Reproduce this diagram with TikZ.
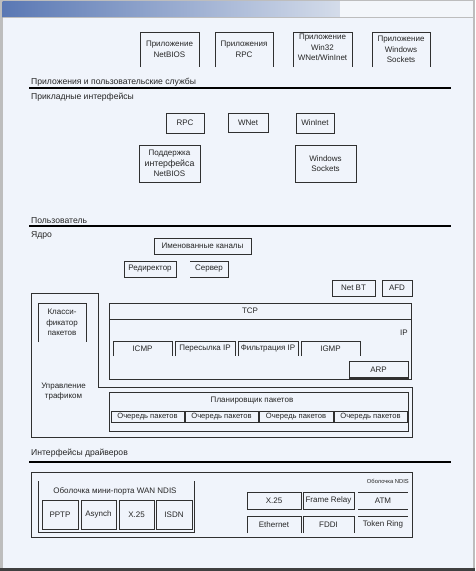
\documentclass[tikz,border=0pt]{standalone}
\usepackage{fontspec}
\setmainfont{Liberation Sans}
\definecolor{bgc}{HTML}{F0F4FB}
\definecolor{boxc}{HTML}{303030}
\definecolor{txt}{HTML}{262626}
\definecolor{barA}{HTML}{5A78B4}
\definecolor{barB}{HTML}{D4DCEA}
\definecolor{barC}{HTML}{F3F6FA}
\definecolor{edgec}{HTML}{BDBDBD}
\tikzset{
  bx/.style={draw=boxc, line width=0.6pt, inner sep=0pt, outer sep=0pt, align=center,
    font=\fontsize{8}{10.5}\selectfont, text=txt},
  ob/.style={draw=none},
  lbl/.style={anchor=west, inner sep=0pt, font=\fontsize{8.6}{10}\selectfont, text=txt},
  tx/.style={inner sep=0pt, align=center, font=\fontsize{8}{10}\selectfont, text=txt},
  sepline/.style={line width=1.3pt, draw=black},
  ln/.style={draw=boxc, line width=0.6pt},
}
% #1 options, #2 name, #3 x1, #4 y1, #5 x2, #6 y2, #7 text
\newcommand\rbox[7][]{%
  \node[bx,#1,minimum width={(#5-#3)*1pt},minimum height={(#6-#4)*1pt}] (#2)
    at ({(#3+#5)/2},{(#4+#6)/2}) {#7};}
\newcommand\openb[1]{\draw[ln] (#1.south west) -- (#1.north west) -- (#1.north east) -- (#1.south east);}
\begin{document}
\begin{tikzpicture}[x=1pt,y=-1pt]
\useasboundingbox (0,0) rectangle (475,571);
% frame
\fill[bgc] (0,0) rectangle (475,571);
\fill[edgec] (0,0) rectangle (2.5,571);
\fill[edgec] (472.5,0) rectangle (475,571);
\fill[edgec] (0,0) rectangle (475,1);
\shade[left color=barA, right color=barB] (2.5,1) rectangle (340,17);
\fill[barC] (340,1) rectangle (472.5,17);
\draw[edgec, line width=1pt] (2.5,17.5) -- (472.5,17.5);
\fill[black!75] (0,568) rectangle (475,571);

% applications
\rbox[ob]{a1}{140}{32}{199}{67}{Приложение\\NetBIOS}\openb{a1}
\rbox[ob]{a2}{215}{32}{273}{67}{Приложения\\RPC}\openb{a2}
\rbox[ob,yshift=2pt]{a3}{293}{32}{352}{67}{Приложение\\Win32\\WNet/WinInet}
\draw[ln] (293,67) -- (293,32) -- (352,32) -- (352,67);
\rbox[ob]{a4}{372}{32}{430}{67}{Приложение\\Windows\\Sockets}\openb{a4}

\node[lbl] (l1) at (31,82) {Приложения и пользовательские службы};
\coordinate (s1a) at (29,88); \coordinate (s1b) at (451,88);
\draw[sepline] (s1a) -- (s1b);
\node[lbl] (l2) at (31,97) {Прикладные интерфейсы};

\rbox{b1}{166}{113}{204}{133}{RPC}
\rbox{b2}{228}{113}{268}{132}{WNet}
\rbox{b3}{296}{113}{334}{133}{WinInet}
\rbox{b4}{139}{145}{200}{182}{Поддержка\\{\fontsize{8.8}{10.5}\selectfont интерфейса}\\NetBIOS}
\rbox{b5}{295}{145}{356}{182}{Windows\\Sockets}

\node[lbl] (l3) at (31,221) {Пользователь};
\coordinate (s2a) at (29,226); \coordinate (s2b) at (451,226);
\draw[sepline] (s2a) -- (s2b);
\node[lbl] (l4) at (31,235) {Ядро};

\rbox{c1}{154}{238}{251}{254}{Именованные каналы}
\rbox{c2}{124}{261}{176}{277}{Редиректор}
\rbox[ob]{c3}{190}{261}{228}{277}{Сервер}
\draw[ln] (c3.north west) -- (c3.north east) -- (c3.south east) -- (c3.south west);
\rbox{c4}{332}{280}{375}{296}{Net BT}
\rbox{c5}{382}{280}{412}{296}{AFD}

% traffic control
\draw[ln] (31,293) -- (98,293) -- (98,387) -- (412,387) -- (412,437) -- (31,437) -- cycle;
\rbox[ob]{d1}{38}{303}{86}{342}{Класси-\\фикатор\\пакетов}\openb{d1}
\node[tx,anchor=center] (tc) at (63.5,391.5) {Управление\\трафиком};

% TCP/IP
\rbox{tcpip}{109}{303}{411}{379}{}
\node[tx] (tcp) at (250,311) {TCP};
\draw[ln] (tcpip.west |- 0,319) -- (tcpip.east |- 0,319);
\node[tx] (ip) at (404,333) {IP};
\rbox[ob]{e1}{113}{341}{172}{356}{ICMP}\openb{e1}
\rbox[ob]{e2}{175}{341}{235}{356}{Пересылка IP}\openb{e2}
\rbox[ob]{e3}{238}{341}{298}{356}{Фильтрация IP}\openb{e3}
\rbox[ob]{e4}{301}{341}{360}{356}{IGMP}\openb{e4}
\rbox{arp}{349}{361}{408}{378}{ARP}
\draw[boxc, line width=1.2pt] (arp.south west) -- (arp.south east);

% scheduler
\rbox{sch}{109}{392}{408}{431}{}
\node[tx] (schl) at (252,401) {Планировщик пакетов};
\rbox[font=\fontsize{7.6}{9}\selectfont]{q1}{111}{411}{184}{422}{Очередь пакетов}
\rbox[font=\fontsize{7.6}{9}\selectfont]{q2}{185}{411}{258}{422}{Очередь пакетов}
\rbox[font=\fontsize{7.6}{9}\selectfont]{q3}{259}{411}{333}{422}{Очередь пакетов}
\rbox[font=\fontsize{7.6}{9}\selectfont]{q4}{334}{411}{407}{422}{Очередь пакетов}

\node[lbl] (l5) at (31,453) {Интерфейсы драйверов};
\coordinate (s3a) at (29,462); \coordinate (s3b) at (451,462);
\draw[sepline] (s3a) -- (s3b);

% drivers
\rbox{drv}{31}{472}{412}{537}{}
\draw[ln] (38,481) -- (38,532) -- (194,532) -- (194,481);
\node[tx] (wanl) at (115,491) {Оболочка мини-порта WAN NDIS};
\rbox{w1}{42}{500}{78}{529}{PPTP}
\rbox{w2}{81}{500}{116}{529}{Asynch}
\rbox{w3}{119}{500}{154}{529}{X.25}
\rbox{w4}{156}{500}{192}{529}{ISDN}
\node[tx,anchor=east,font=\fontsize{5.8}{7}\selectfont] (ndisl) at (409,481) {Оболочка NDIS};
\rbox{n1}{247}{492}{301}{509}{X.25}
\rbox{n2}{303}{492}{354}{509}{Frame Relay}
\rbox[ob]{n3}{358}{492}{408}{509}{ATM}
\draw[ln] (n3.north west) -- (n3.north east);
\draw[ln] (n3.south west) -- (n3.south east);
\rbox[ob]{n4}{247}{516}{301}{533}{Ethernet}\openb{n4}
\rbox[ob]{n5}{303}{516}{354}{533}{FDDI}\openb{n5}
\rbox[ob]{n6}{358}{516}{408}{533}{Token Ring}
\draw[ln] (n6.north west) -- (n6.north east);
\end{tikzpicture}
\end{document}
